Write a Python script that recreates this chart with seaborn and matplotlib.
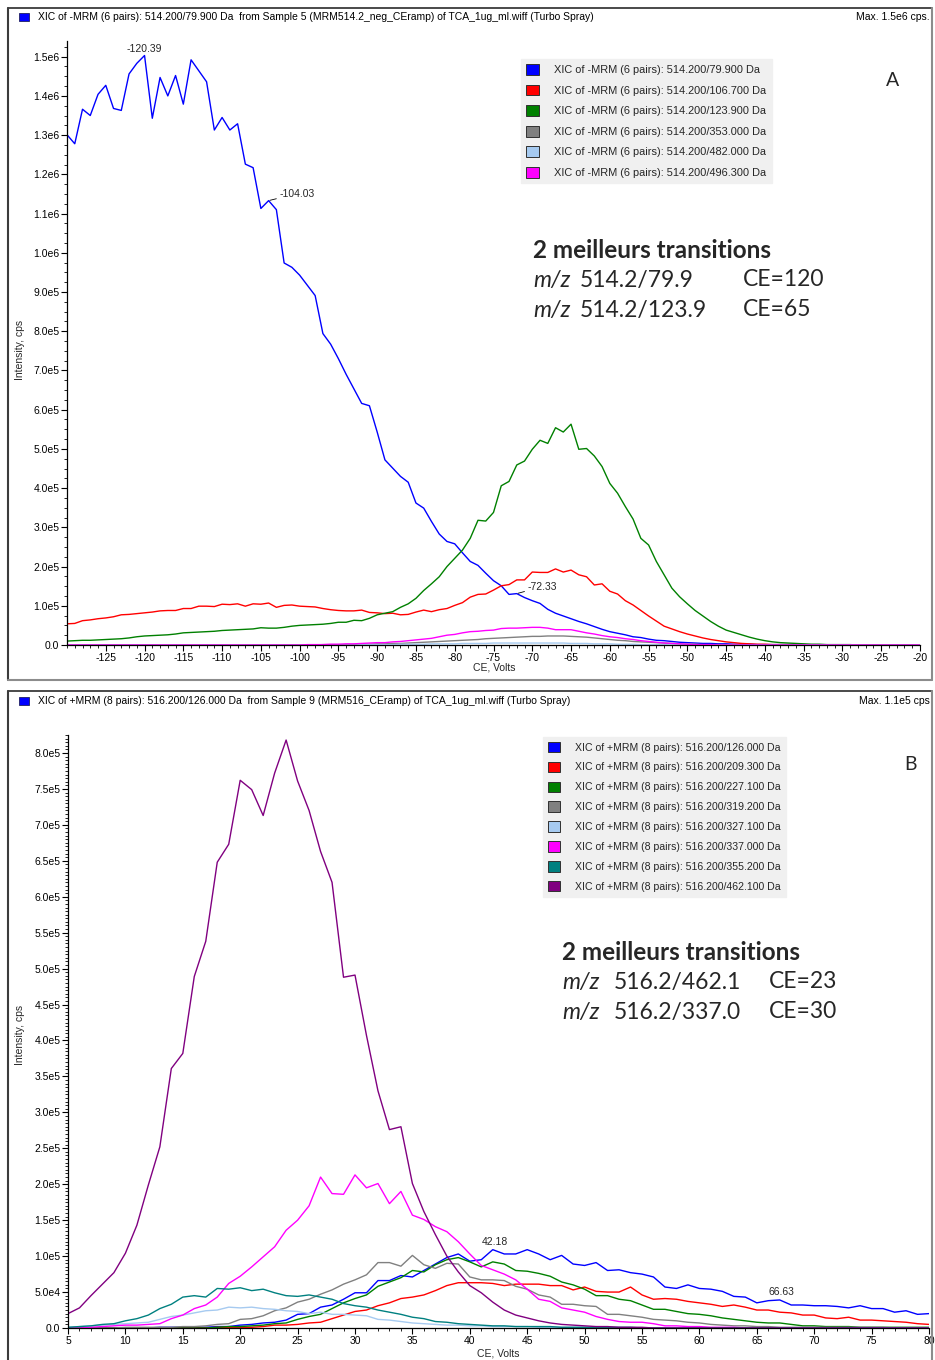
import matplotlib
matplotlib.use("Agg")
import matplotlib.pyplot as plt
import matplotlib.font_manager as fm
from matplotlib.lines import Line2D
from matplotlib.patches import Patch, Rectangle
from matplotlib.ticker import MultipleLocator, FuncFormatter
import numpy as np
import pandas as pd
import seaborn as sns

# ---------------- data (intensities in units of 1e5 cps) ----------------
# Panel A : CE ramp -130 .. -20 V, 1 V steps
ce_a = np.arange(-130, -19, 1)
a_q3 = ["79.900", "106.700", "123.900", "353.000", "482.000", "496.300"]
a_colors = ["#0000ff", "#ff0000", "#008000", "#808080", "#a6caf0", "#ff00ff"]

a_79 = [13.01, 12.78, 13.66, 13.50, 14.04, 14.27, 13.68, 13.63, 14.56, 14.83,
        15.03, 13.43, 14.47, 14.00, 14.52, 13.79, 14.92, 14.64, 14.36, 13.13,
        13.45, 13.13, 13.29, 12.26, 12.17, 11.13, 11.33, 11.10, 9.74, 9.63,
        9.43, 9.17, 8.91, 7.94, 7.67, 7.30, 6.90, 6.53, 6.16, 6.10,
        5.43, 4.72, 4.51, 4.30, 4.15, 3.62, 3.49, 3.15, 2.83, 2.64,
        2.58, 2.35, 2.13, 2.03, 1.83, 1.64, 1.51, 1.29, 1.31, 1.21,
        1.13, 1.06, 0.91, 0.81, 0.74, 0.67, 0.60, 0.54, 0.47, 0.40,
        0.34, 0.30, 0.26, 0.21, 0.19, 0.15, 0.12, 0.11, 0.09, 0.07,
        0.06, 0.05, 0.04, 0.04, 0.03, 0.03, 0.02, 0.02, 0.02, 0.01,
        0.01, 0.01, 0.01, 0.01, 0.01, 0.0, 0.0, 0.0, 0.0, 0.0,
        0.0, 0.0, 0.0, 0.0, 0.0, 0.0, 0.0, 0.0, 0.0, 0.0,
        0.0]
a_106 = [0.54, 0.55, 0.62, 0.64, 0.67, 0.69, 0.72, 0.77, 0.78, 0.80,
         0.82, 0.84, 0.87, 0.88, 0.88, 0.93, 0.93, 0.99, 0.99, 0.98,
         1.04, 1.03, 1.05, 0.99, 1.05, 1.04, 1.07, 0.96, 1.01, 1.02,
         0.99, 0.98, 0.97, 0.93, 0.90, 0.88, 0.87, 0.87, 0.89, 0.83,
         0.82, 0.80, 0.81, 0.77, 0.78, 0.84, 0.89, 0.85, 0.90, 0.93,
         1.01, 1.08, 1.22, 1.29, 1.30, 1.40, 1.51, 1.54, 1.66, 1.66,
         1.86, 1.85, 1.85, 1.94, 1.86, 1.91, 1.79, 1.74, 1.53, 1.56,
         1.37, 1.30, 1.13, 1.02, 0.88, 0.74, 0.61, 0.48, 0.41, 0.34,
         0.28, 0.23, 0.18, 0.14, 0.11, 0.08, 0.06, 0.04, 0.03, 0.02,
         0.02, 0.01, 0.01, 0.01, 0.01, 0.0, 0.0, 0.0, 0.0, 0.0,
         0.0, 0.0, 0.0, 0.0, 0.0, 0.0, 0.0, 0.0, 0.0, 0.0,
         0.0]
a_123 = [0.10, 0.11, 0.12, 0.12, 0.13, 0.14, 0.15, 0.16, 0.18, 0.21,
         0.23, 0.24, 0.25, 0.26, 0.28, 0.31, 0.32, 0.33, 0.34, 0.35,
         0.37, 0.38, 0.39, 0.40, 0.41, 0.44, 0.43, 0.43, 0.45, 0.48,
         0.50, 0.51, 0.52, 0.53, 0.55, 0.58, 0.58, 0.63, 0.62, 0.68,
         0.77, 0.81, 0.85, 0.96, 1.05, 1.19, 1.39, 1.56, 1.74, 2.00,
         2.21, 2.42, 2.72, 3.18, 3.16, 3.38, 4.06, 4.17, 4.59, 4.69,
         4.99, 5.22, 5.14, 5.54, 5.43, 5.63, 4.99, 5.01, 4.82, 4.55,
         4.12, 3.87, 3.53, 3.21, 2.72, 2.55, 2.13, 1.79, 1.45, 1.23,
         1.05, 0.88, 0.74, 0.60, 0.48, 0.38, 0.32, 0.26, 0.20, 0.15,
         0.11, 0.08, 0.06, 0.05, 0.04, 0.03, 0.02, 0.02, 0.01, 0.01,
         0.01, 0.01, 0.0, 0.0, 0.0, 0.0, 0.0, 0.0, 0.0, 0.0,
         0.0]
a_353 = [0.0, 0.0, 0.0, 0.0, 0.0, 0.0, 0.0, 0.0, 0.0, 0.0,
         0.0, 0.0, 0.0, 0.0, 0.0, 0.0, 0.0, 0.0, 0.0, 0.0,
         0.0, 0.0, 0.0, 0.0, 0.0, 0.0, 0.0, 0.0, 0.0, 0.0,
         0.0, 0.0, 0.0, 0.01, 0.01, 0.01, 0.01, 0.01, 0.02, 0.02,
         0.03, 0.03, 0.04, 0.04, 0.05, 0.06, 0.07, 0.08, 0.09, 0.10,
         0.11, 0.12, 0.13, 0.14, 0.16, 0.17, 0.18, 0.19, 0.20, 0.21,
         0.22, 0.22, 0.23, 0.23, 0.23, 0.22, 0.21, 0.20, 0.18, 0.16,
         0.14, 0.12, 0.11, 0.09, 0.08, 0.07, 0.06, 0.05, 0.04, 0.03,
         0.02, 0.02, 0.01, 0.01, 0.01, 0.0, 0.0, 0.0, 0.0, 0.0,
         0.0, 0.0, 0.0, 0.0, 0.0, 0.0, 0.0, 0.0, 0.0, 0.0,
         0.0, 0.0, 0.0, 0.0, 0.0, 0.0, 0.0, 0.0, 0.0, 0.0,
         0.0]
a_482 = [0.0, 0.0, 0.0, 0.0, 0.0, 0.0, 0.0, 0.0, 0.0, 0.0,
         0.0, 0.0, 0.0, 0.0, 0.0, 0.0, 0.0, 0.0, 0.0, 0.0,
         0.0, 0.0, 0.0, 0.0, 0.0, 0.0, 0.0, 0.0, 0.0, 0.0,
         0.0, 0.0, 0.0, 0.0, 0.0, 0.0, 0.0, 0.0, 0.01, 0.01,
         0.01, 0.01, 0.01, 0.02, 0.02, 0.02, 0.02, 0.03, 0.03, 0.03,
         0.03, 0.04, 0.04, 0.04, 0.04, 0.05, 0.05, 0.05, 0.05, 0.05,
         0.05, 0.05, 0.05, 0.05, 0.05, 0.04, 0.04, 0.04, 0.03, 0.03,
         0.03, 0.02, 0.02, 0.02, 0.01, 0.01, 0.01, 0.01, 0.0, 0.0,
         0.0, 0.0, 0.0, 0.0, 0.0, 0.0, 0.0, 0.0, 0.0, 0.0,
         0.0, 0.0, 0.0, 0.0, 0.0, 0.0, 0.0, 0.0, 0.0, 0.0,
         0.0, 0.0, 0.0, 0.0, 0.0, 0.0, 0.0, 0.0, 0.0, 0.0,
         0.0]
a_496 = [0.0, 0.0, 0.0, 0.0, 0.0, 0.0, 0.0, 0.0, 0.0, 0.0,
         0.0, 0.0, 0.0, 0.0, 0.0, 0.0, 0.0, 0.0, 0.0, 0.0,
         0.0, 0.0, 0.0, 0.0, 0.0, 0.0, 0.0, 0.0, 0.0, 0.0,
         0.0, 0.01, 0.01, 0.01, 0.02, 0.02, 0.03, 0.03, 0.04, 0.05,
         0.06, 0.06, 0.08, 0.09, 0.11, 0.13, 0.15, 0.17, 0.21, 0.25,
         0.27, 0.31, 0.34, 0.35, 0.37, 0.38, 0.42, 0.43, 0.43, 0.44,
         0.45, 0.45, 0.43, 0.39, 0.39, 0.39, 0.35, 0.31, 0.28, 0.24,
         0.21, 0.19, 0.16, 0.14, 0.11, 0.09, 0.07, 0.05, 0.04, 0.03,
         0.02, 0.01, 0.01, 0.01, 0.0, 0.0, 0.0, 0.0, 0.0, 0.0,
         0.0, 0.0, 0.0, 0.0, 0.0, 0.0, 0.0, 0.0, 0.0, 0.0,
         0.0, 0.0, 0.0, 0.0, 0.0, 0.0, 0.0, 0.0, 0.0, 0.0,
         0.0]

# Panel B : CE ramp 5 .. 80 V, 1 V steps
ce_b = np.arange(5, 81, 1)
b_q3 = ["126.000", "209.300", "227.100", "319.200", "327.100", "337.000", "355.200", "462.100"]
b_colors = ["#0000ff", "#ff0000", "#008000", "#808080", "#a6caf0", "#ff00ff", "#008080", "#800080"]

b_126 = [0.0, 0.0, 0.0, 0.0, 0.0, 0.0, 0.0, 0.0, 0.01, 0.01,
         0.01, 0.01, 0.01, 0.02, 0.02, 0.04, 0.05, 0.07, 0.08, 0.11,
         0.19, 0.20, 0.29, 0.32, 0.40, 0.49, 0.49, 0.66, 0.66, 0.73,
         0.71, 0.80, 0.89, 0.98, 1.03, 0.93, 0.95, 1.09, 1.03, 1.03,
         1.09, 1.03, 0.95, 1.01, 0.89, 0.87, 0.91, 0.80, 0.81, 0.77,
         0.75, 0.71, 0.57, 0.55, 0.60, 0.55, 0.54, 0.51, 0.44, 0.43,
         0.35, 0.38, 0.39, 0.32, 0.32, 0.31, 0.31, 0.30, 0.28, 0.31,
         0.27, 0.27, 0.22, 0.24, 0.19, 0.20]
b_209 = [0.0, 0.0, 0.0, 0.0, 0.0, 0.0, 0.0, 0.0, 0.0, 0.0,
         0.0, 0.0, 0.0, 0.01, 0.01, 0.01, 0.01, 0.02, 0.04, 0.04,
         0.05, 0.07, 0.08, 0.13, 0.18, 0.23, 0.25, 0.31, 0.35, 0.41,
         0.43, 0.46, 0.52, 0.59, 0.63, 0.63, 0.63, 0.62, 0.59, 0.61,
         0.61, 0.61, 0.59, 0.59, 0.53, 0.57, 0.51, 0.50, 0.50, 0.57,
         0.46, 0.40, 0.41, 0.40, 0.37, 0.35, 0.33, 0.30, 0.32, 0.29,
         0.25, 0.25, 0.22, 0.21, 0.18, 0.18, 0.14, 0.13, 0.15, 0.11,
         0.11, 0.10, 0.09, 0.08, 0.06, 0.05]
b_227 = [0.0, 0.0, 0.0, 0.0, 0.0, 0.0, 0.0, 0.0, 0.0, 0.0,
         0.0, 0.0, 0.0, 0.01, 0.02, 0.02, 0.03, 0.04, 0.06, 0.07,
         0.12, 0.16, 0.19, 0.27, 0.35, 0.41, 0.46, 0.58, 0.64, 0.70,
         0.80, 0.78, 0.88, 0.95, 0.98, 0.92, 0.85, 0.92, 0.89, 0.80,
         0.79, 0.76, 0.72, 0.64, 0.60, 0.54, 0.45, 0.45, 0.40, 0.38,
         0.32, 0.26, 0.26, 0.23, 0.20, 0.19, 0.17, 0.14, 0.12, 0.10,
         0.08, 0.07, 0.07, 0.05, 0.03, 0.03, 0.02, 0.02, 0.02, 0.01,
         0.01, 0.01, 0.01, 0.01, 0.01, 0.01]
b_319 = [0.0, 0.0, 0.0, 0.0, 0.0, 0.01, 0.01, 0.01, 0.01, 0.01,
         0.02, 0.02, 0.03, 0.05, 0.06, 0.12, 0.13, 0.17, 0.24, 0.28,
         0.36, 0.40, 0.47, 0.53, 0.61, 0.67, 0.74, 0.91, 0.91, 0.86,
         1.01, 0.88, 0.83, 0.90, 0.89, 0.71, 0.67, 0.67, 0.66, 0.58,
         0.54, 0.46, 0.43, 0.33, 0.33, 0.31, 0.30, 0.19, 0.19, 0.17,
         0.15, 0.12, 0.11, 0.10, 0.08, 0.07, 0.05, 0.04, 0.03, 0.03,
         0.02, 0.02, 0.01, 0.01, 0.01, 0.01, 0.01, 0.01, 0.01, 0.01,
         0.01, 0.01, 0.0, 0.0, 0.0, 0.0]
b_327 = [0.01, 0.02, 0.03, 0.04, 0.05, 0.06, 0.07, 0.08, 0.12, 0.16,
         0.18, 0.21, 0.24, 0.25, 0.29, 0.28, 0.29, 0.27, 0.26, 0.24,
         0.23, 0.20, 0.22, 0.19, 0.19, 0.18, 0.17, 0.12, 0.11, 0.09,
         0.07, 0.06, 0.05, 0.04, 0.04, 0.03, 0.03, 0.02, 0.02, 0.02,
         0.02, 0.01, 0.01, 0.01, 0.01, 0.01, 0.0, 0.0, 0.0, 0.0,
         0.0, 0.0, 0.0, 0.0, 0.0, 0.0, 0.0, 0.0, 0.0, 0.0,
         0.0, 0.0, 0.0, 0.0, 0.0, 0.0, 0.0, 0.0, 0.0, 0.0,
         0.0, 0.0, 0.0, 0.0, 0.0, 0.0]
b_337 = [0.0, 0.0, 0.01, 0.02, 0.03, 0.04, 0.04, 0.05, 0.06, 0.13,
         0.18, 0.27, 0.32, 0.43, 0.62, 0.72, 0.85, 0.99, 1.13, 1.36,
         1.50, 1.70, 2.10, 1.87, 1.86, 2.13, 1.95, 2.01, 1.73, 1.90,
         1.57, 1.51, 1.41, 1.34, 1.20, 1.03, 0.87, 0.81, 0.75, 0.67,
         0.54, 0.40, 0.37, 0.28, 0.25, 0.22, 0.16, 0.12, 0.09, 0.08,
         0.08, 0.06, 0.03, 0.03, 0.02, 0.02, 0.01, 0.01, 0.01, 0.0,
         0.0, 0.0, 0.0, 0.0, 0.0, 0.0, 0.0, 0.0, 0.0, 0.0,
         0.0, 0.0, 0.0, 0.0, 0.0, 0.0]
b_355 = [0.01, 0.02, 0.03, 0.05, 0.06, 0.10, 0.13, 0.18, 0.27, 0.33,
         0.43, 0.45, 0.43, 0.55, 0.54, 0.56, 0.52, 0.54, 0.49, 0.45,
         0.44, 0.46, 0.43, 0.40, 0.34, 0.31, 0.29, 0.25, 0.22, 0.19,
         0.15, 0.13, 0.09, 0.08, 0.06, 0.05, 0.04, 0.03, 0.03, 0.02,
         0.02, 0.02, 0.02, 0.01, 0.01, 0.01, 0.01, 0.01, 0.01, 0.01,
         0.0, 0.0, 0.0, 0.0, 0.0, 0.0, 0.0, 0.0, 0.0, 0.0,
         0.0, 0.0, 0.0, 0.0, 0.0, 0.0, 0.0, 0.0, 0.0, 0.0,
         0.0, 0.0, 0.0, 0.0, 0.0, 0.0]
b_462 = [0.20, 0.28, 0.45, 0.61, 0.77, 1.04, 1.43, 1.99, 2.52, 3.61,
         3.82, 4.89, 5.38, 6.48, 6.73, 7.62, 7.49, 7.13, 7.72, 8.18,
         7.61, 7.20, 6.63, 6.20, 4.88, 4.91, 4.07, 3.30, 2.76, 2.80,
         2.01, 1.62, 1.30, 1.00, 0.78, 0.59, 0.49, 0.36, 0.25, 0.18,
         0.14, 0.10, 0.07, 0.05, 0.04, 0.03, 0.02, 0.02, 0.01, 0.01,
         0.01, 0.0, 0.0, 0.0, 0.0, 0.0, 0.0, 0.0, 0.0, 0.0,
         0.0, 0.0, 0.0, 0.0, 0.0, 0.0, 0.0, 0.0, 0.0, 0.0,
         0.0, 0.0, 0.0, 0.0, 0.0, 0.0]

# peak labels shown by the software (CE value, transition index, text)
a_peaks = [(-120, 0, "-120.39"), (-104, 0, "-104.03"), (-72, 0, "-72.33")]
b_peaks = [(42, 0, "42.18"), (67, 0, "66.63")]

W, H = 935, 1360


def fx(x):
    return x / W


def fy(y):
    return 1 - y / H


def sci(v, pos):
    if abs(v) < 1e-6:
        return "0.0"
    if v < 0:
        return ""
    e = int(np.floor(np.log10(v) + 1e-9))
    return f"{v / 10 ** e:.1f}e{e}"


def long_frame(ce, series, labels):
    return pd.DataFrame({
        "CE": np.tile(ce, len(series)),
        "intensity": np.concatenate([np.asarray(s) for s in series]) * 1e5,
        "transition": np.repeat(labels, len(ce)),
    })


sns.set_theme(style="ticks")
names = {f.name for f in fm.fontManager.ttflist}
UI = "Liberation Sans" if "Liberation Sans" in names else "DejaVu Sans"
BIG = "Lato" if "Lato" in names else "DejaVu Sans"
plt.rcParams["font.family"] = [UI, "DejaVu Sans"]
plt.rcParams["axes.unicode_minus"] = False

fig = plt.figure(figsize=(W / 100, H / 100), dpi=100)
fig.patch.set_facecolor("white")


def panel_frame(top, bottom):
    dark, light = "#3c3c3c", "#8c8c8c"
    fig.add_artist(Line2D([fx(8), fx(932)], [fy(top), fy(top)], transform=fig.transFigure, color=dark, lw=1.3))
    fig.add_artist(Line2D([fx(8), fx(8)], [fy(top), fy(bottom)], transform=fig.transFigure, color=dark, lw=1.5))
    fig.add_artist(Line2D([fx(932), fx(932)], [fy(top), fy(bottom)], transform=fig.transFigure, color=light, lw=1.5))
    fig.add_artist(Line2D([fx(8), fx(932)], [fy(bottom), fy(bottom)], transform=fig.transFigure, color=light, lw=1.5))


def header(y, title, maxtxt):
    fig.add_artist(Rectangle((fx(19), fy(y + 4)), 10 / W, 8 / H, transform=fig.transFigure,
                             facecolor="#0000ff", edgecolor="#202060", lw=0.6))
    fig.text(fx(38), fy(y), title, fontsize=7.5, ha="left", va="center", color="black")
    fig.text(fx(930), fy(y), maxtxt, fontsize=7.5, ha="right", va="center", color="black")


def style_axes(ax, xmin, xmax, xticks, ymax, ymajor, yminor):
    ax.set_xlim(xmin, xmax)
    ax.set_ylim(0, ymax)
    ax.set_xticks(xticks)
    ax.xaxis.set_minor_locator(MultipleLocator(1))
    ax.yaxis.set_major_locator(MultipleLocator(ymajor))
    ax.yaxis.set_minor_locator(MultipleLocator(yminor))
    ax.yaxis.set_major_formatter(FuncFormatter(sci))
    ax.set_xlabel("")
    ax.set_ylabel("")
    ax.set_facecolor("white")
    sns.despine(ax=ax)
    for side in ("left", "bottom"):
        ax.spines[side].set_color("black")
        ax.spines[side].set_linewidth(0.9)
    ax.tick_params(which="major", length=4, width=0.8, labelsize=7.5, pad=1.5, colors="black")
    ax.tick_params(which="minor", length=2, width=0.6, colors="black")


def legend(ax, labels, colors, x, y, spacing, size):
    handles = [Patch(facecolor=c, edgecolor="#303030", lw=0.7) for c in colors]
    leg = ax.legend(handles, labels, loc="upper left", bbox_to_anchor=(fx(x), fy(y)),
                    bbox_transform=fig.transFigure, fontsize=size, frameon=True,
                    handlelength=1.15, handleheight=1.15, handletextpad=1.45,
                    labelspacing=spacing, borderpad=0.45, borderaxespad=0, fancybox=False)
    leg.get_frame().set_facecolor("#f0f0f0")
    leg.get_frame().set_edgecolor("#f0f0f0")
    leg.get_frame().set_alpha(1)


def best_text(x, y0, lines, xs):
    fig.text(fx(x), fy(y0), "2 meilleurs transitions", family=BIG, fontsize=17.5,
             fontweight="bold", ha="left", va="center")
    for i, (pair, ce) in enumerate(lines):
        yy = y0 + 30 * (i + 1)
        fig.text(fx(x), fy(yy), "m/z", family=BIG, fontsize=16.5, style="italic", ha="left", va="center")
        fig.text(fx(xs[0]), fy(yy), pair, family=BIG, fontsize=16.5, ha="left", va="center")
        fig.text(fx(xs[1]), fy(yy), ce, family=BIG, fontsize=16.5, ha="left", va="center")


# ---------------- panel A ----------------
panel_frame(8, 680)
header(17, "XIC of -MRM (6 pairs): 514.200/79.900 Da  from Sample 5 (MRM514.2_neg_CEramp) of "
           "TCA_1ug_ml.wiff (Turbo Spray)", "Max. 1.5e6 cps.")
a_labels = [f"XIC of -MRM (6 pairs): 514.200/{q} Da" for q in a_q3]
a_series = [a_79, a_106, a_123, a_353, a_482, a_496]
df_a = long_frame(ce_a, a_series, a_labels)

ax_a = fig.add_axes([fx(67), fy(645), (920 - 67) / W, (645 - 41) / H])
sns.lineplot(data=df_a, x="CE", y="intensity", hue="transition", hue_order=a_labels,
             palette=dict(zip(a_labels, a_colors)), estimator=None, lw=1.0,
             legend=False, ax=ax_a)
style_axes(ax_a, -130, -20, np.arange(-125, -19, 5), 1.54e6, 1e5, 2.5e4)
legend(ax_a, a_labels, a_colors, 521, 59, 0.86, 7.9)

for ce, idx, txt in a_peaks:
    yv = a_series[idx][list(ce_a).index(ce)] * 1e5
    if txt == "-120.39":
        ax_a.annotate(txt, (ce, yv), xytext=(0, 2), textcoords="offset pixels",
                      ha="center", va="bottom", fontsize=7.5)
    else:
        ax_a.annotate(txt, (ce, yv), xytext=(11, 7), textcoords="offset pixels",
                      ha="left", va="center", fontsize=7.5,
                      arrowprops=dict(arrowstyle="-", lw=0.6, color="black",
                                      shrinkA=0, shrinkB=1))

fig.text(fx(20), fy(350), "Intensity, cps", rotation=90, fontsize=7.5, ha="center", va="center")
fig.text(fx(494), fy(668), "CE, Volts", fontsize=7.5, ha="center", va="center")
fig.text(fx(893), fy(81), "A", family=BIG, fontsize=14, ha="center", va="center")
best_text(533, 250, [("514.2/79.9", "CE=120"), ("514.2/123.9", "CE=65")], (580, 743))

# ---------------- panel B ----------------
panel_frame(691, 1362)
header(701, "XIC of +MRM (8 pairs): 516.200/126.000 Da  from Sample 9 (MRM516_CEramp) of "
            "TCA_1ug_ml.wiff (Turbo Spray)", "Max. 1.1e5 cps")
b_labels = [f"XIC of +MRM (8 pairs): 516.200/{q} Da" for q in b_q3]
b_series = [b_126, b_209, b_227, b_319, b_327, b_337, b_355, b_462]
df_b = long_frame(ce_b, b_series, b_labels)

ax_b = fig.add_axes([fx(68), fy(1328), (929 - 68) / W, (1328 - 735) / H])
sns.lineplot(data=df_b, x="CE", y="intensity", hue="transition", hue_order=b_labels,
             palette=dict(zip(b_labels, b_colors)), estimator=None, lw=1.0,
             legend=False, ax=ax_b)
style_axes(ax_b, 5, 80, np.arange(5, 81, 5), 8.25e5, 5e4, 5e3)
legend(ax_b, b_labels, b_colors, 543, 737, 0.86, 7.6)

for ce, idx, txt in b_peaks:
    yv = b_series[idx][list(ce_b).index(ce)] * 1e5
    ax_b.annotate(txt, (ce, yv), xytext=(2, 3), textcoords="offset pixels",
                  ha="center", va="bottom", fontsize=7.5)

fig.text(fx(20), fy(1035), "Intensity, cps", rotation=90, fontsize=7.5, ha="center", va="center")
fig.text(fx(498), fy(1354), "CE, Volts", fontsize=7.5, ha="center", va="center")
fig.text(fx(910), fy(765), "B", family=BIG, fontsize=14, ha="center", va="center")
best_text(562, 952, [("516.2/462.1", "CE=23"), ("516.2/337.0", "CE=30")], (614, 769))

fig.savefig("out.png", dpi=100, facecolor="white")
